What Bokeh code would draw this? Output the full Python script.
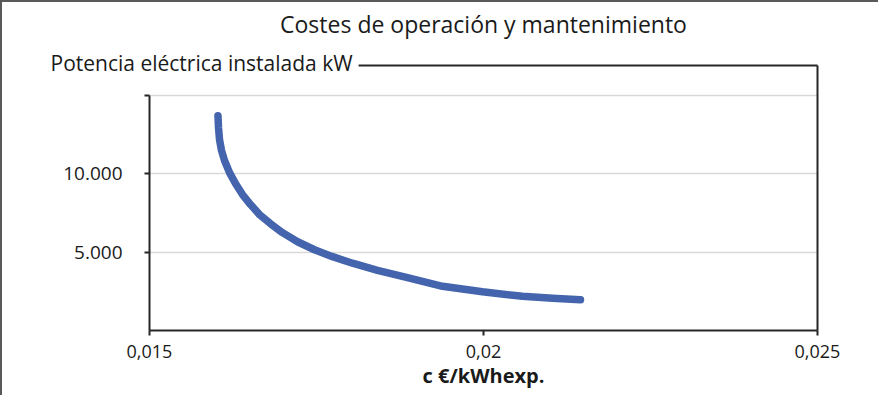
from bokeh.plotting import figure
from bokeh.models import Range1d, FixedTicker, LinearAxis, Title, CustomJSTickFormatter
from bokeh.embed import file_html
from bokeh.resources import INLINE

# Data
cost_eur_kwh = [0.016025, 0.016033, 0.016048, 0.016078, 0.016123, 0.016198, 0.016287, 0.016392,
                0.016512, 0.016647, 0.016811, 0.016991, 0.017216, 0.01747, 0.01774, 0.018039,
                0.018413, 0.018862, 0.019386, 0.019984, 0.020583, 0.021033, 0.021452]
power_kw = [13700, 12950, 12180, 11480, 10840, 10070, 9370, 8670,
            8030, 7390, 6810, 6240, 5660, 5150, 4710, 4290,
            3840, 3370, 2820, 2470, 2180, 2060, 1960]

x_ticks = [0.015, 0.02, 0.025]
x_tick_labels = ["0,015", "0,02", "0,025"]
y_ticks = [5000, 10000, 15000]
y_tick_labels = ["5.000", "10.000", ""]

title_text = "Costes de operación y mantenimiento"
y_title = "Potencia eléctrica instalada kW"
x_title = "c €/kWhexp."

FONT = "Open Sans"
AX = "#262626"
TXT = "#1a1a1a"

p = figure(width=878, height=395, output_backend="svg", toolbar_location=None,
           x_range=Range1d(0.015, 0.025), y_range=Range1d(0, 16900),
           min_border_left=147, min_border_right=63, min_border_top=63, min_border_bottom=67,
           title_location=None)
p.styles = {"border-top": "2px solid #595959", "border-left": "2px solid #595959"}
p.outline_line_color = None
p.background_fill_color = "white"
p.border_fill_color = "white"

def fmt(ticks, labels):
    return CustomJSTickFormatter(args=dict(t=ticks, l=labels), code="""
        let best = 0, d = Infinity;
        for (let i = 0; i < t.length; i++) {
            const dd = Math.abs(t[i] - tick);
            if (dd < d) { d = dd; best = i; }
        }
        return l[best];
    """)

# x axis
xa = p.xaxis[0]
xa.ticker = FixedTicker(ticks=x_ticks)
xa.formatter = fmt(x_ticks, x_tick_labels)
xa.axis_label = x_title
xa.axis_label_text_font = FONT
xa.axis_label_text_font_size = "20px"
xa.axis_label_text_font_style = "bold"
xa.axis_label_text_color = TXT
xa.axis_label_standoff = 1
xa.major_label_text_font = FONT
xa.major_label_text_font_size = "18px"
xa.major_label_text_color = TXT
xa.major_label_standoff = 9
xa.axis_line_color = AX
xa.axis_line_width = 2
xa.major_tick_line_color = AX
xa.major_tick_line_width = 2
xa.major_tick_in = 0
xa.major_tick_out = 5
xa.minor_tick_line_color = None

# y axis
ya = p.yaxis[0]
ya.ticker = FixedTicker(ticks=y_ticks)
ya.formatter = fmt(y_ticks, y_tick_labels)
ya.bounds = (0, 15000)
ya.major_label_text_font = FONT
ya.major_label_text_font_size = "19px"
ya.major_label_text_color = TXT
ya.major_label_standoff = 22
ya.axis_line_color = AX
ya.axis_line_width = 2
ya.major_tick_line_color = AX
ya.major_tick_line_width = 2
ya.major_tick_in = 0
ya.major_tick_out = 5
ya.minor_tick_line_color = None

# grid
p.xgrid.grid_line_color = None
p.ygrid.ticker = FixedTicker(ticks=y_ticks)
p.ygrid.grid_line_color = "#d9d9d9"
p.ygrid.grid_line_width = 1.5

# y axis title sitting on the top border (white background hides the line)
ytitle = Title(text=y_title, align="left", offset=-103, vertical_align="middle",
               standoff=-37, padding=dict(left=4, right=6, top=0, bottom=6),
               text_font=FONT, text_font_size="21px",
               text_font_style="normal", text_color=TXT,
               background_fill_color="white")
p.add_layout(ytitle, "above")

# top border line of the plot area, carrying the chart title as its label
top_border = LinearAxis(ticker=FixedTicker(ticks=[]), axis_line_color=AX, axis_line_width=2,
                        major_tick_line_color=None, minor_tick_line_color=None,
                        major_tick_out=0, major_tick_in=0, major_label_standoff=0,
                        axis_label=title_text, axis_label_standoff=26,
                        axis_label_text_font=FONT, axis_label_text_font_size="23px",
                        axis_label_text_font_style="normal", axis_label_text_color=TXT)
p.add_layout(top_border, "above")

# right border line of the plot area
right_border = LinearAxis(ticker=FixedTicker(ticks=[]), axis_line_color=AX, axis_line_width=2,
                          major_tick_line_color=None, minor_tick_line_color=None,
                          major_tick_out=0, major_tick_in=0, major_label_standoff=0)
p.add_layout(right_border, "right")

# curve
p.line(cost_eur_kwh, power_kw, line_width=7.5, line_color="#4464ad",
       line_cap="round", line_join="round")

open("out.html", "w").write(file_html(p, INLINE))
